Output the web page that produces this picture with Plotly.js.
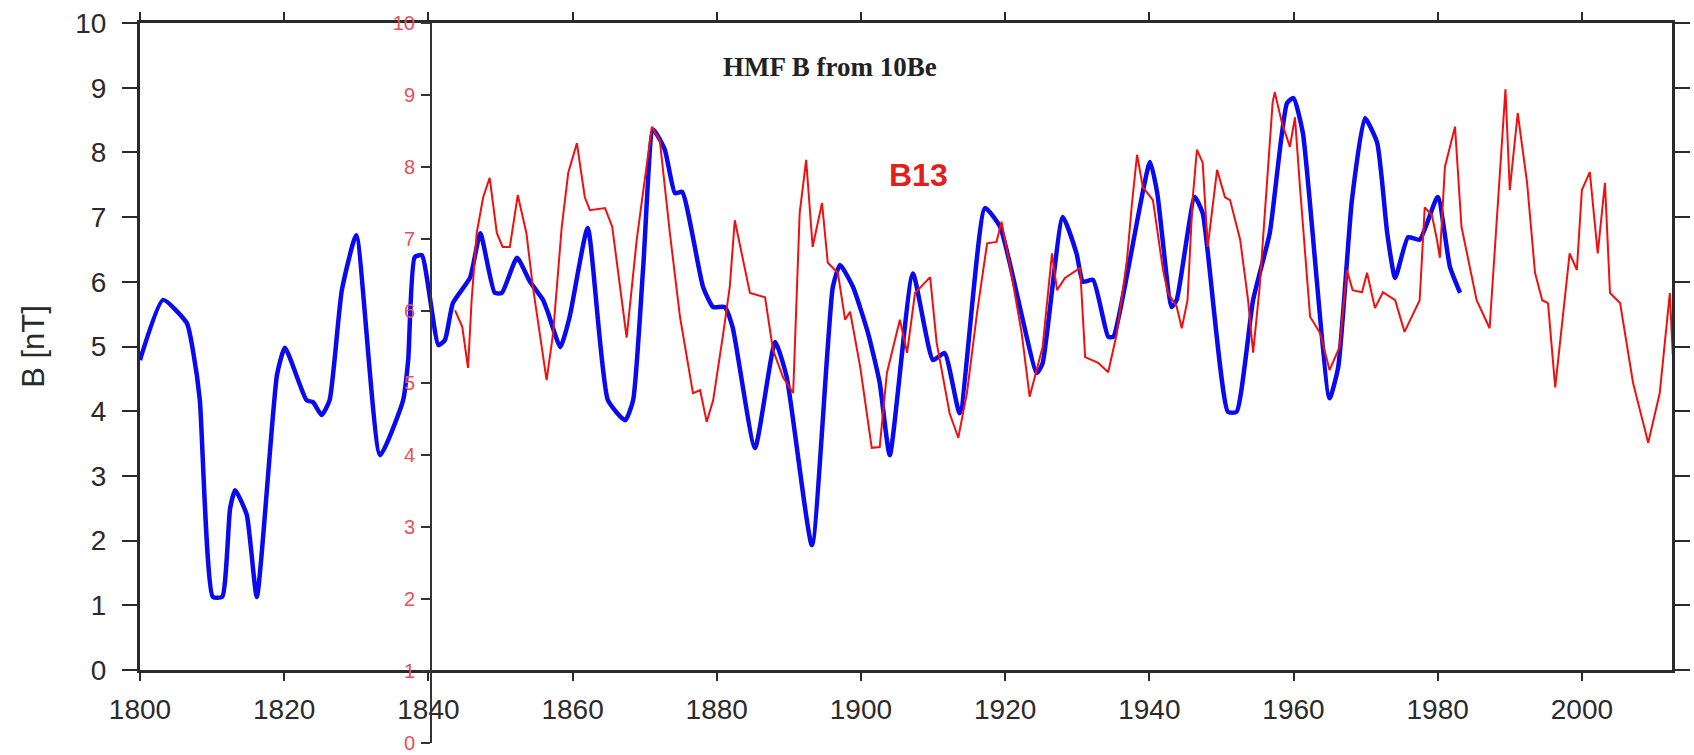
<!DOCTYPE html>
<html>
<head>
<meta charset="utf-8">
<script src="https://cdn.plot.ly/plotly-3.0.1.min.js"></script>
<style>html,body{margin:0;padding:0;background:#fff;}#chart{width:1694px;height:755px;}</style>
</head>
<body>
<div id="chart"></div>
<script>
// Blue: HMF B from 10Be (left axis)
const blueYears = [1800, 1803.2, 1806.5, 1807.4, 1808.3, 1810.1, 1811.4, 1812.5, 1813.2, 1814.8, 1816.2, 1819, 1820.1, 1823.1, 1824, 1825.2, 1826.3, 1828, 1830, 1833.3, 1836.5, 1837.2, 1838.1, 1839.1, 1841.4, 1842.3, 1843.4, 1845.8, 1847.2, 1849.2, 1850.2, 1852.3, 1854.1, 1855.9, 1856.6, 1858.3, 1859.6, 1862.1, 1864.9, 1867.3, 1868.4, 1869.8, 1871.2, 1872.8, 1874.2, 1875.2, 1878.1, 1879.5, 1881.1, 1882.2, 1885.3, 1888.1, 1889.7, 1893.2, 1896.1, 1897.1, 1898.9, 1901, 1902.6, 1904, 1907.2, 1910, 1911.6, 1913.7, 1917.2, 1919.3, 1924.4, 1925.2, 1928, 1929.9, 1930.8, 1932.2, 1934.3, 1935, 1940.1, 1941.1, 1943.1, 1943.8, 1946.3, 1947.4, 1950.9, 1952.1, 1954.4, 1956.7, 1959.1, 1960, 1961.3, 1965, 1966.2, 1968.1, 1969.9, 1971.6, 1973, 1974.1, 1975.9, 1977.5, 1980, 1981.7, 1983.1];
const blueValues = [4.79, 5.72, 5.36, 4.9, 4.17, 1.13, 1.13, 2.5, 2.78, 2.4, 1.13, 4.56, 4.98, 4.17, 4.14, 3.94, 4.17, 5.87, 6.72, 3.32, 4.17, 4.79, 6.38, 6.41, 5.02, 5.1, 5.67, 6.07, 6.75, 5.83, 5.83, 6.37, 6.0, 5.72, 5.52, 4.99, 5.46, 6.83, 4.17, 3.86, 4.17, 6.23, 8.35, 8.04, 7.37, 7.39, 5.92, 5.61, 5.61, 5.3, 3.43, 5.07, 4.53, 1.93, 5.92, 6.26, 5.92, 5.2, 4.44, 3.32, 6.13, 4.79, 4.9, 3.97, 7.14, 6.85, 4.59, 4.74, 7.0, 6.44, 6.0, 6.03, 5.15, 5.15, 7.85, 7.37, 5.61, 5.72, 7.31, 7.06, 3.99, 3.99, 5.72, 6.75, 8.76, 8.84, 8.3, 4.2, 4.68, 7.26, 8.53, 8.15, 6.75, 6.06, 6.69, 6.65, 7.31, 6.23, 5.83];

// Red: B13 (inner red axis)
const redYears = [1843.7, 1844.7, 1845.5, 1846.0, 1846.7, 1847.6, 1848.5, 1849.5, 1850.3, 1851.3, 1852.4, 1853.6, 1854.5, 1856.4, 1857.3, 1858.5, 1859.4, 1860.6, 1861.7, 1862.4, 1864.5, 1865.5, 1867.5, 1868.9, 1871.0, 1872.1, 1873.5, 1874.9, 1876.7, 1877.7, 1878.6, 1879.5, 1880.9, 1881.8, 1882.5, 1883.2, 1884.6, 1886.7, 1887.8, 1889.2, 1890.6, 1891.5, 1892.4, 1893.3, 1894.6, 1895.4, 1896.8, 1897.8, 1898.5, 1899.9, 1901.5, 1902.6, 1903.6, 1905.4, 1906.4, 1907.5, 1909.6, 1910.5, 1912.3, 1913.5, 1914.7, 1916.1, 1917.5, 1918.8, 1919.5, 1920.7, 1922.3, 1923.4, 1925.2, 1926.5, 1927.2, 1928.3, 1930.4, 1931.1, 1932.9, 1934.3, 1935.5, 1936.9, 1937.6, 1938.3, 1939.1, 1940.5, 1941.9, 1942.6, 1943.8, 1944.5, 1945.3, 1946.0, 1946.6, 1947.4, 1948.1, 1949.4, 1950.5, 1951.2, 1952.6, 1953.7, 1954.4, 1955.3, 1956.3, 1957.1, 1957.4, 1958.4, 1959.5, 1960.2, 1960.9, 1961.6, 1962.3, 1963.7, 1965.0, 1966.4, 1967.4, 1968.2, 1969.5, 1970.2, 1971.3, 1972.4, 1974.1, 1975.4, 1976.6, 1977.5, 1978.2, 1979.2, 1979.9, 1980.3, 1981.0, 1982.4, 1983.3, 1985.4, 1987.2, 1988.6, 1989.4, 1990.0, 1991.1, 1992.4, 1993.5, 1994.5, 1995.3, 1996.3, 1997.4, 1998.3, 1999.3, 2000.0, 2001.1, 2002.2, 2003.2, 2003.9, 2005.3, 2007.1, 2009.2, 2010.8, 2012.2, 2012.6];
const redValues = [6.01, 5.78, 5.21, 6.15, 7.08, 7.58, 7.85, 7.08, 6.89, 6.89, 7.61, 7.08, 6.33, 5.04, 5.69, 7.17, 7.92, 8.33, 7.58, 7.40, 7.43, 7.17, 5.63, 6.99, 8.56, 8.37, 7.08, 5.92, 4.86, 4.90, 4.46, 4.76, 5.69, 6.33, 7.26, 6.94, 6.25, 6.19, 5.46, 5.08, 4.86, 7.36, 8.10, 6.89, 7.50, 6.67, 6.53, 5.88, 5.99, 5.22, 4.10, 4.11, 5.14, 5.88, 5.42, 6.25, 6.47, 5.56, 4.58, 4.24, 4.86, 5.97, 6.94, 6.96, 7.24, 6.61, 5.69, 4.81, 5.50, 6.80, 6.29, 6.46, 6.60, 5.36, 5.28, 5.15, 5.69, 6.71, 7.50, 8.17, 7.72, 7.54, 6.57, 6.25, 6.06, 5.76, 6.15, 7.54, 8.24, 8.06, 6.89, 7.96, 7.58, 7.54, 6.99, 6.15, 5.42, 6.33, 7.78, 8.89, 9.04, 8.61, 8.28, 8.69, 7.72, 6.85, 5.92, 5.69, 5.18, 5.50, 6.57, 6.29, 6.26, 6.53, 6.04, 6.26, 6.15, 5.71, 5.97, 6.15, 7.44, 7.33, 6.99, 6.74, 8.00, 8.56, 7.17, 6.15, 5.76, 7.78, 9.08, 7.68, 8.75, 7.78, 6.53, 6.15, 6.11, 4.94, 6.01, 6.80, 6.57, 7.68, 7.93, 6.80, 7.78, 6.25, 6.11, 5.00, 4.17, 4.86, 6.25, 5.40];

const xTicks = [1800, 1820, 1840, 1860, 1880, 1900, 1920, 1940, 1960, 1980, 2000];
const yTicks = [0, 1, 2, 3, 4, 5, 6, 7, 8, 9, 10];
const titleText = 'HMF B from 10Be';
const seriesLabel = 'B13';
const yTitle = 'B [nT]';

const traces = [
  {x: blueYears, y: blueValues, type: 'scatter', mode: 'lines', xaxis: 'x', yaxis: 'y',
   line: {color: '#0a0af0', width: 4.5, shape: 'spline', smoothing: 0.5}, name: 'HMF B', showlegend: false, hoverinfo: 'x+y'},
  {x: redYears, y: redValues, type: 'scatter', mode: 'lines', xaxis: 'x', yaxis: 'y2',
   line: {color: '#f01010', width: 2}, name: seriesLabel, showlegend: false, hoverinfo: 'x+y'}
];

const axisColor = '#2a2a2a';
const layout = {
  width: 1694, height: 755,
  margin: {l: 140, r: 22, t: 23, b: 12, pad: 0},
  paper_bgcolor: '#ffffff', plot_bgcolor: 'rgba(0,0,0,0)',
  showlegend: false,
  xaxis: {
    range: [1800, 2012.5], tickmode: 'array', tickvals: xTicks, ticktext: xTicks.map(String),
    anchor: 'y', showgrid: false, zeroline: false,
    showline: true, linecolor: axisColor, linewidth: 3, mirror: 'ticks',
    ticks: 'outside', ticklen: 8, tickwidth: 2, tickcolor: axisColor,
    tickfont: {family: 'Liberation Sans, Arial, sans-serif', size: 28, color: '#2a2a2a'},
    ticklabelstandoff: 4
  },
  yaxis: {
    domain: [0.1014, 1], range: [0, 10], tickmode: 'array', tickvals: yTicks,
    anchor: 'x', showgrid: false, zeroline: false,
    showline: true, linecolor: axisColor, linewidth: 3, mirror: 'ticks',
    ticks: 'outside', ticklen: 15, tickwidth: 2, tickcolor: axisColor,
    tickfont: {family: 'Liberation Sans, Arial, sans-serif', size: 28, color: '#2a2a2a'},
    ticklabelstandoff: 10,
    title: {text: yTitle, standoff: 22, font: {family: 'Liberation Sans, Arial, sans-serif', size: 31, color: '#2a2a2a'}}
  },
  yaxis2: {
    domain: [0, 1], range: [0, 10], tickmode: 'array', tickvals: yTicks,
    anchor: 'free', position: 290 / 1532, side: 'left',
    showgrid: false, zeroline: false,
    showline: true, linecolor: '#333333', linewidth: 1.5,
    ticks: 'outside', ticklen: 9, tickwidth: 1.5, tickcolor: '#333333',
    tickfont: {family: 'Liberation Sans Narrow, Liberation Sans, Arial, sans-serif', size: 20, color: '#e8505a'},
    ticklabelstandoff: 2
  },
  annotations: [
    {text: '<b>' + titleText + '</b>', xref: 'paper', yref: 'paper', x: (830 - 140) / 1532, y: (743 - 67) / 720,
     xanchor: 'center', yanchor: 'middle', showarrow: false,
     font: {family: 'Liberation Serif, Times New Roman, serif', size: 27, color: '#222222'}},
    {text: '<b>' + seriesLabel + '</b>', xref: 'paper', yref: 'paper', x: (918 - 140) / 1532, y: (743 - 175) / 720,
     xanchor: 'center', yanchor: 'middle', showarrow: false,
     font: {family: 'Liberation Sans, Arial, sans-serif', size: 32, color: '#e01f1f'}}
  ]
};

Plotly.newPlot('chart', traces, layout, {displayModeBar: false, staticPlot: true});
</script>
</body>
</html>
